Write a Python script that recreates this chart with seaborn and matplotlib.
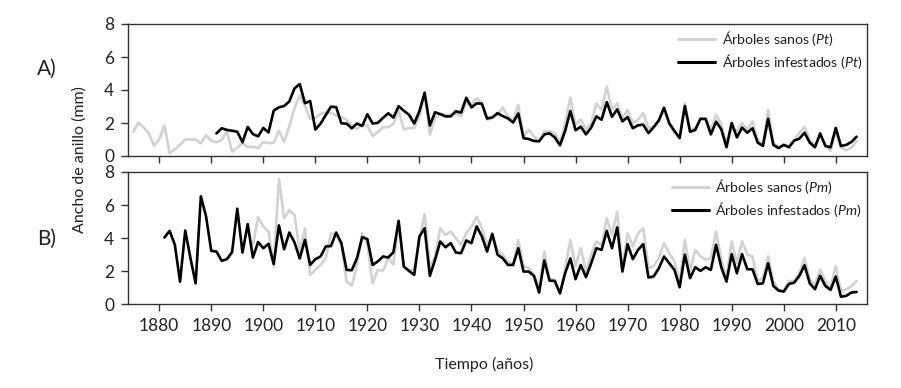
import numpy as np
import pandas as pd
import matplotlib
matplotlib.use("Agg")
import matplotlib.pyplot as plt
import seaborn as sns
from matplotlib import font_manager

# ---------------- data ----------------
years_A_sanos = list(range(1875, 2015))
A_sanos = [
    1.47, 2.02, 1.74, 1.37, 0.63,                                   # 1875-1879
    1.00, 1.86, 0.16, 0.40, 0.69, 1.00, 1.00, 1.00, 0.77, 1.25,     # 1880s
    0.93, 0.83, 0.97, 1.50, 0.26, 0.50, 0.77, 0.55, 0.55, 0.48,     # 1890s
    0.85, 0.78, 0.80, 1.54, 0.85, 1.80, 2.90, 3.68, 3.05, 2.25,     # 1900s
    2.30, 2.55, 2.65, 2.60, 2.45, 2.35, 2.20, 1.80, 1.65, 1.90,     # 1910s
    1.85, 1.20, 1.45, 1.75, 1.75, 1.95, 2.75, 1.60, 1.70, 1.70,     # 1920s
    2.40, 3.70, 1.30, 2.30, 2.55, 2.50, 2.50, 2.60, 2.40, 3.20,     # 1930s
    3.10, 3.50, 3.20, 2.20, 2.30, 2.50, 2.95, 2.40, 2.20, 3.09,     # 1940s
    1.20, 1.58, 1.20, 0.90, 1.50, 1.50, 1.40, 0.80, 2.00, 3.54,     # 1950s
    1.90, 2.20, 1.60, 2.00, 3.19, 2.80, 4.20, 2.80, 3.20, 2.30,     # 1960s
    2.80, 2.00, 2.20, 2.60, 1.70, 1.80, 2.10, 2.80, 2.00, 1.40,     # 1970s
    1.20, 3.20, 1.60, 1.70, 2.20, 2.30, 1.60, 2.50, 1.90, 0.80,     # 1980s
    1.80, 1.50, 2.00, 1.60, 2.10, 1.00, 0.70, 2.80, 0.80, 0.50,     # 1990s
    0.70, 0.60, 1.00, 1.40, 1.75, 1.00, 0.60, 1.30, 0.70, 0.30,     # 2000s
    1.50, 0.50, 0.35, 0.50, 0.90,                                   # 2010-2014
]

years_A_inf = list(range(1891, 2015))
A_inf = [
    1.37, 1.68, 1.58, 1.53, 1.47, 0.83, 1.76, 1.33, 1.19,           # 1891-1899
    1.70, 1.43, 2.75, 2.95, 3.03, 3.31, 4.10, 4.36, 3.20, 3.33,     # 1900s
    1.60, 1.96, 2.48, 2.99, 2.96, 1.98, 1.96, 1.68, 1.97, 1.82,     # 1910s
    2.53, 1.97, 2.01, 2.31, 2.59, 2.33, 3.02, 2.74, 2.50, 1.97,     # 1920s
    2.72, 3.84, 1.85, 2.65, 2.54, 2.40, 2.40, 2.71, 2.63, 3.53,     # 1930s
    2.95, 3.19, 3.17, 2.27, 2.34, 2.60, 2.42, 2.28, 2.03, 2.58,     # 1940s
    1.08, 1.03, 0.91, 0.89, 1.31, 1.37, 1.13, 0.65, 1.52, 2.73,     # 1950s
    1.56, 1.78, 1.31, 1.72, 2.40, 2.20, 3.27, 2.38, 2.83, 2.10,     # 1960s
    2.36, 1.68, 1.86, 1.90, 1.39, 1.74, 2.16, 2.93, 1.98, 1.52,     # 1970s
    1.08, 3.03, 1.47, 1.58, 2.26, 2.24, 1.31, 2.08, 1.62, 0.53,     # 1980s
    2.00, 1.13, 1.72, 1.41, 1.68, 0.81, 0.61, 2.26, 0.67, 0.48,     # 1990s
    0.67, 0.53, 0.93, 1.05, 1.41, 0.81, 0.53, 1.37, 0.61, 0.53,     # 2000s
    1.70, 0.61, 0.67, 0.85, 1.17,                                   # 2010-2014
]

years_B_sanos = list(range(1898, 2015))
B_sanos = [
    3.60, 5.27,                                                     # 1898-1899
    4.70, 4.40, 2.28, 7.60, 5.20, 5.70, 5.40, 3.20, 4.60, 1.78,     # 1900s
    2.08, 2.38, 2.79, 4.30, 4.20, 3.60, 1.37, 1.13, 2.38, 4.30,     # 1910s
    3.60, 1.27, 2.08, 2.02, 2.80, 2.40, 4.90, 2.28, 2.00, 2.18,     # 1920s
    3.90, 5.45, 2.18, 2.90, 4.60, 4.20, 4.40, 4.00, 3.60, 4.30,     # 1930s
    4.70, 5.30, 4.60, 3.60, 4.20, 3.30, 3.00, 2.60, 2.40, 3.90,     # 1940s
    2.30, 2.20, 1.80, 0.90, 3.20, 1.50, 1.50, 0.60, 2.20, 3.90,     # 1950s
    2.30, 3.40, 2.00, 3.00, 3.80, 3.60, 5.20, 4.20, 5.60, 2.20,     # 1960s
    4.30, 3.50, 4.30, 4.60, 2.20, 2.30, 2.80, 3.70, 3.10, 2.60,     # 1970s
    1.30, 3.90, 2.00, 3.30, 2.90, 2.70, 2.80, 4.40, 2.70, 1.60,     # 1980s
    3.80, 2.50, 3.80, 3.00, 2.90, 1.40, 1.60, 2.90, 1.40, 0.90,     # 1990s
    0.80, 1.40, 1.40, 1.90, 2.80, 1.50, 1.20, 2.10, 1.40, 1.00,     # 2000s
    2.30, 0.80, 0.90, 1.10, 1.40,                                   # 2010-2014
]

years_B_inf = list(range(1881, 2015))
B_inf = [
    4.04, 4.44, 3.60, 1.37, 4.46, 2.79, 1.27, 6.53, 5.31,           # 1881-1889
    3.23, 3.19, 2.63, 2.73, 3.15, 5.78, 3.13, 4.85, 2.83, 3.76,     # 1890s
    3.39, 3.66, 2.44, 4.77, 3.33, 4.34, 3.74, 2.77, 3.90, 2.38,     # 1900s
    2.73, 2.89, 3.50, 3.52, 4.34, 3.70, 2.08, 2.06, 2.79, 4.06,     # 1910s
    3.94, 2.38, 2.59, 2.89, 2.83, 3.15, 5.05, 2.28, 2.02, 1.78,     # 1920s
    4.10, 4.60, 1.72, 2.69, 3.80, 3.45, 3.70, 3.13, 3.09, 3.86,     # 1930s
    3.70, 4.71, 4.10, 3.19, 4.26, 3.00, 2.79, 2.38, 2.38, 3.39,     # 1940s
    1.98, 1.98, 1.72, 0.71, 2.65, 1.43, 1.41, 0.67, 1.88, 2.77,     # 1950s
    1.52, 2.38, 1.64, 2.48, 3.39, 3.29, 4.44, 3.39, 4.65, 1.98,     # 1960s
    3.64, 2.73, 3.29, 3.64, 1.62, 1.68, 2.18, 2.89, 2.48, 2.08,     # 1970s
    1.03, 3.00, 1.58, 2.24, 2.02, 2.24, 2.08, 3.60, 2.24, 1.37,     # 1980s
    3.03, 1.88, 3.03, 2.12, 2.12, 1.23, 1.27, 2.48, 1.11, 0.83,     # 1990s
    0.77, 1.23, 1.31, 1.72, 2.36, 1.27, 0.91, 1.72, 1.11, 0.87,     # 2000s
    1.68, 0.46, 0.51, 0.71, 0.75,                                   # 2010-2014
]

xtick_years = list(range(1880, 2011, 10))
ytick_vals = [0, 2, 4, 6, 8]
label_sanos_A = r"Árboles sanos ($\mathit{Pt}$)"
label_inf_A = r"Árboles infestados ($\mathit{Pt}$)"
label_sanos_B = r"Árboles sanos ($\mathit{Pm}$)"
label_inf_B = r"Árboles infestados ($\mathit{Pm}$)"
panel_labels = ["A)", "B)"]
ylabel = "Ancho de anillo (mm)"
xlabel = "Tiempo (años)"

# ---------------- style ----------------
sns.set_theme(style="ticks")
fam = "Lato"
try:
    font_manager.findfont(fam, fallback_to_default=False)
except Exception:
    fam = "DejaVu Sans"
plt.rcParams["font.family"] = [fam, "DejaVu Sans"]
plt.rcParams["font.weight"] = "normal"
plt.rcParams["mathtext.fontset"] = "custom"
plt.rcParams["mathtext.it"] = f"{fam}:italic"
plt.rcParams["mathtext.rm"] = f"{fam}"
TXT = "#222222"
plt.rcParams["text.color"] = TXT
plt.rcParams["xtick.labelcolor"] = TXT
plt.rcParams["ytick.labelcolor"] = TXT

GRAY = "#d2d2d2"
BLACK = "#000000"

fig = plt.figure(figsize=(9.01, 3.88), dpi=100)
axA = fig.add_axes([128 / 901, 1 - 156 / 388, (867 - 128) / 901, 132 / 388])
axB = fig.add_axes([128 / 901, 1 - 304.3 / 388, (867 - 128) / 901, 132.3 / 388])


def draw(ax, ys, vs, yi, vi, ls, li):
    df = pd.concat([
        pd.DataFrame({"year": ys, "val": vs, "serie": ls}),
        pd.DataFrame({"year": yi, "val": vi, "serie": li}),
    ])
    sns.lineplot(data=df, x="year", y="val", hue="serie",
                 palette={ls: GRAY, li: BLACK}, hue_order=[ls, li],
                 linewidth=1.9, ax=ax, legend=True)
    ax.set_xlim(1874, 2016)
    ax.set_ylim(0, 8)
    ax.set_xticks(xtick_years)
    ax.set_yticks(ytick_vals)
    ax.set_xlabel("")
    ax.set_ylabel("")
    for s in ax.spines.values():
        s.set_visible(True)
        s.set_color("#333333")
        s.set_linewidth(1.0)
    ax.tick_params(direction="out", length=5, width=1, color="#333333",
                   labelsize=12.5, pad=5)
    leg = ax.legend(loc="upper right", frameon=False, fontsize=10.2,
                    handlelength=2.6, handletextpad=0.45, labelspacing=0.3,
                    borderaxespad=0.05, borderpad=0.3)
    for line in leg.get_lines():
        line.set_linewidth(2.2)


draw(axA, years_A_sanos, A_sanos, years_A_inf, A_inf, label_sanos_A, label_inf_A)
draw(axB, years_B_sanos, B_sanos, years_B_inf, B_inf, label_sanos_B, label_inf_B)
axA.tick_params(labelbottom=False)

fig.text(47 / 901, 1 - 69 / 388, panel_labels[0], fontsize=15, ha="center", va="center")
fig.text(47 / 901, 1 - 239 / 388, panel_labels[1], fontsize=15, ha="center", va="center")
fig.text(80 / 901, 1 - 160 / 388, ylabel, fontsize=11.5, rotation=90, ha="center", va="center")
fig.text(484 / 901, 1 - 364 / 388, xlabel, fontsize=11.5, ha="center", va="center")

fig.savefig("out.png", dpi=100)
